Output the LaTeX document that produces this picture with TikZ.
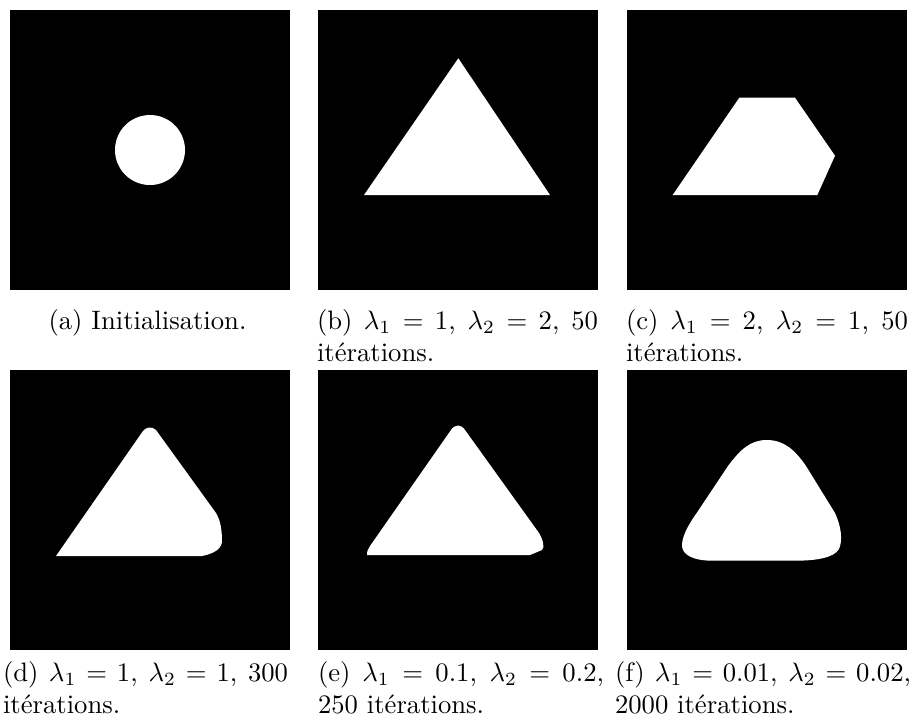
\documentclass[tikz,border=0pt]{standalone}
\begin{document}
\begin{tikzpicture}[x=0.375pt,y=-0.375pt,
  panel/.style={fill=black},
  blob/.style={fill=white},
  captxt/.style={anchor=base west, inner sep=0pt, outer sep=0pt, align=justify},
  captctr/.style={anchor=base, inner sep=0pt, outer sep=0pt}]
\useasboundingbox (0,0) rectangle (911,724);
% panels
\fill[panel] (10,10) rectangle (290,290);
\fill[panel] (318,10) rectangle (598,290);
\fill[panel] (627,10) rectangle (907,290);
\fill[panel] (10,370) rectangle (290,650);
\fill[panel] (318,370) rectangle (598,650);
\fill[panel] (627,370) rectangle (907,650);
% (a) circle
\fill[blob] (150,150) circle[radius=35];
% (b) triangle
\fill[blob] (458.3,58.3) -- (550,195) -- (364,195) -- cycle;
% (c) pentagon
\fill[blob] (739.3,97.7) -- (795,97.7) -- (835,155.7) -- (817.3,195) -- (672.7,195) -- cycle;
% (d)
\fill[blob] (56,556) -- (143,431) .. controls (146,427) and (152,426) .. (156,430)
  -- (216,513) .. controls (221,521) and (222,532) .. (222,542)
  .. controls (221,550) and (212,554) .. (202,556) -- cycle;
% (e)
\fill[blob] (367,555) .. controls (367,551) and (368,549) .. (370,546)
  -- (451,430) .. controls (455,424) and (461,424) .. (465,430)
  -- (539,533) .. controls (543,540) and (545,547) .. (542,550)
  -- (530,555) -- cycle;
% (f)
\fill[blob] (766.7,440) .. controls (750,440) and (740,450) .. (728,466)
  -- (696,514) .. controls (684,531) and (680,543) .. (683,550)
  .. controls (687,558) and (700,560.7) .. (712,560.7)
  -- (795,560.7) .. controls (815,560.7) and (834,558) .. (839,549)
  .. controls (843,540) and (841,526) .. (835,513)
  -- (806,466) .. controls (795,450) and (784,440) .. cycle;
% captions
\node[captctr] (capA) at (147.5,329) {(a) Initialisation.};
\node[captxt, text width=105.4pt] (capB) at (317,329) {(b) $\lambda_1 = 1$, $\lambda_2 = 2$, 50\linebreak itérations.};
\node[captxt, text width=105.75pt] (capC) at (626,329) {(c) $\lambda_1 = 2$, $\lambda_2 = 1$, 50\linebreak itérations.};
\node[captxt, text width=106.9pt] (capD) at (3,681) {(d) $\lambda_1 = 1$, $\lambda_2 = 1$, 300\linebreak itérations.};
\node[captxt, text width=107.25pt] (capE) at (318,681) {(e) $\lambda_1 = 0.1$, $\lambda_2 = 0.2$,\linebreak 250 itérations.};
\node[captxt, text width=111pt] (capF) at (615,681) {(f) $\lambda_1 = 0.01$, $\lambda_2 = 0.02$,\linebreak 2000 itérations.};
\end{tikzpicture}
\end{document}
